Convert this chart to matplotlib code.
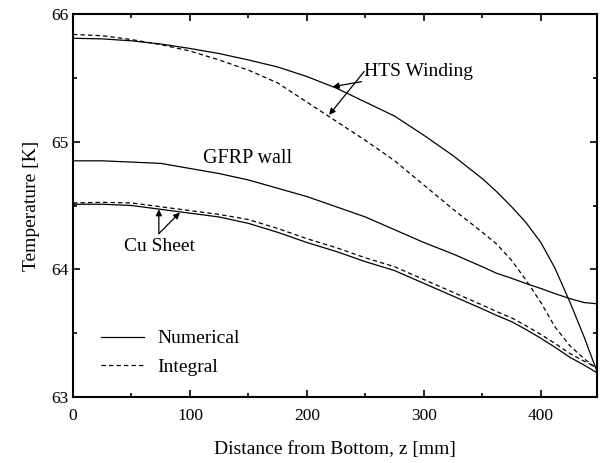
import matplotlib
matplotlib.use("Agg")
import matplotlib.pyplot as plt
from matplotlib.ticker import MultipleLocator

plt.rcParams['font.family'] = ['Liberation Serif', 'DejaVu Serif']

z = [0, 25, 50, 75, 100, 125, 150, 175, 200, 225, 250, 275, 300, 325,
     350, 362, 375, 387, 400, 412, 425, 437, 448]

hts_num = [65.81, 65.805, 65.79, 65.765, 65.73, 65.69, 65.64, 65.585, 65.51, 65.42, 65.31, 65.20,
           65.05, 64.89, 64.71, 64.61, 64.49, 64.37, 64.21, 64.01, 63.74, 63.47, 63.20]
hts_int = [65.84, 65.83, 65.80, 65.76, 65.71, 65.64, 65.56, 65.46, 65.31, 65.16, 65.01, 64.85,
           64.66, 64.47, 64.29, 64.20, 64.07, 63.92, 63.74, 63.55, 63.40, 63.30, 63.22]
gfrp_num = [64.85, 64.85, 64.84, 64.83, 64.79, 64.75, 64.70, 64.635, 64.57, 64.49, 64.41, 64.31,
            64.21, 64.12, 64.02, 63.97, 63.93, 63.89, 63.85, 63.81, 63.77, 63.74, 63.73]
cu_num = [64.51, 64.51, 64.50, 64.47, 64.44, 64.41, 64.36, 64.29, 64.21, 64.14, 64.06, 63.99,
          63.89, 63.79, 63.69, 63.64, 63.59, 63.53, 63.46, 63.39, 63.31, 63.25, 63.19]
cu_int = [64.52, 64.525, 64.52, 64.49, 64.46, 64.43, 64.39, 64.32, 64.24, 64.17, 64.09, 64.02,
          63.92, 63.82, 63.72, 63.67, 63.62, 63.56, 63.49, 63.42, 63.34, 63.28, 63.23]

x_ticks = [0, 100, 200, 300, 400]
y_ticks = [63, 64, 65, 66]

fig = plt.figure(figsize=(6.03, 4.63), dpi=100)
ax = fig.add_axes([73/603, (463-397)/463, (597-73)/603, (397-14)/463])

lw = 0.9
dash = (0, (3.5, 2.5))
ln_num, = ax.plot(z, hts_num, color='black', lw=lw, ls='-', label='Numerical')
ln_int, = ax.plot(z, hts_int, color='black', lw=lw, ls=dash, label='Integral')
ax.plot(z, gfrp_num, color='black', lw=lw, ls='-')
ax.plot(z, cu_num, color='black', lw=lw, ls='-')
ax.plot(z, cu_int, color='black', lw=lw, ls=dash)

ax.set_xlim(0, 448)
ax.set_ylim(63, 66)
ax.set_xticks(x_ticks)
ax.set_yticks(y_ticks)
ax.xaxis.set_minor_locator(MultipleLocator(50))
ax.yaxis.set_minor_locator(MultipleLocator(0.5))
ax.tick_params(which='both', direction='in', top=True, right=True, labelsize=12.5, width=1.2)
ax.tick_params(which='major', length=5)
ax.tick_params(which='minor', length=3)
ax.tick_params(axis='x', pad=8)
for s in ax.spines.values():
    s.set_linewidth(1.5)

ax.set_xlabel('Distance from Bottom, z [mm]', fontsize=14, labelpad=12)
ax.set_ylabel('Temperature [K]', fontsize=14, labelpad=8)

ap = dict(arrowstyle='-|>', color='black', lw=0.9, mutation_scale=9, shrinkA=0, shrinkB=0)
ax.annotate('HTS Winding', xy=(222, 65.43), xytext=(249, 65.55), fontsize=14,
            va='center', ha='left', arrowprops=ap)
ax.annotate('', xy=(219, 65.21), xytext=(249, 65.55), arrowprops=ap)

ax.text(111, 64.87, 'GFRP wall', fontsize=14.5, va='center', ha='left')

ax.annotate('', xy=(73.4, 64.47), xytext=(73.4, 64.28), arrowprops=ap)
ax.annotate('', xy=(91.4, 64.445), xytext=(73.4, 64.28), arrowprops=ap)
ax.text(74, 64.175, 'Cu Sheet', fontsize=14, va='center', ha='center')

ax.legend(handles=[ln_num, ln_int], loc='lower left', bbox_to_anchor=(0.02, 0.01),
          frameon=False, fontsize=14, handlelength=2.2, labelspacing=0.55, handletextpad=0.7)

fig.savefig('out.png', dpi=100)
